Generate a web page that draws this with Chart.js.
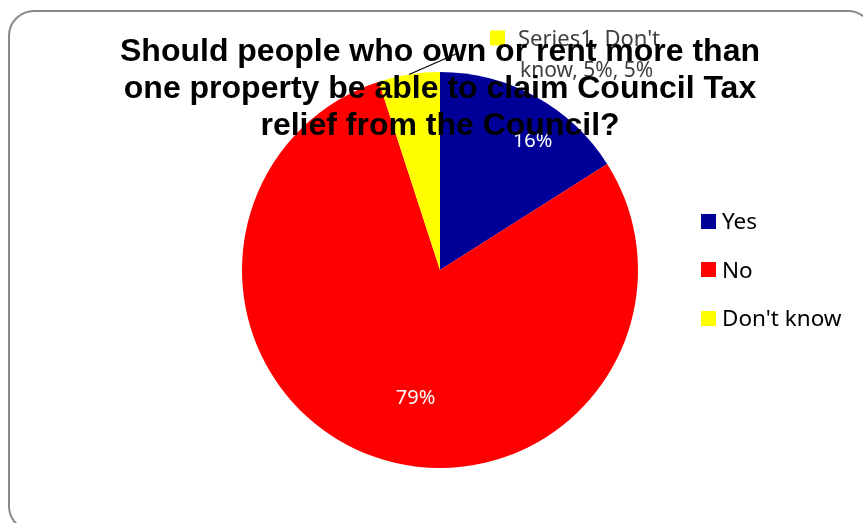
<!DOCTYPE html>
<html lang="en">
<head>
    <meta charset="UTF-8">
    <title>Council Tax relief survey</title>
    <script src="https://cdn.jsdelivr.net/npm/chart.js@4.4.0/dist/chart.umd.min.js"></script>
    <style>
        body {
            margin: 0;
            background: #ffffff;
            overflow: hidden;
        }

        .frame {
            position: relative;
            width: 863px;
            height: 523px;
            overflow: hidden;
        }

        .border-box {
            position: absolute;
            left: 8px;
            top: 10px;
            width: 866px;
            height: 522px;
            border: 2px solid #8a8a8a;
            border-radius: 26px;
            box-sizing: border-box;
        }

        .chart-container {
            position: absolute;
            left: 0;
            top: 0;
            width: 863px;
            height: 523px;
        }

        .title {
            position: absolute;
            left: 40px;
            top: 32px;
            width: 800px;
            text-align: center;
            font-family: "Liberation Sans", Arial, sans-serif;
            font-weight: bold;
            font-size: 32px;
            line-height: 37px;
            color: #000;
            pointer-events: none;
        }

        .legend {
            position: absolute;
            left: 701px;
            top: 197px;
            font-family: "Noto Sans", sans-serif;
            font-size: 22.5px;
            color: #000;
        }

        .legend-item {
            display: flex;
            align-items: center;
            height: 48.5px;
            line-height: 22px;
        }

        .legend-item span.box {
            display: inline-block;
            width: 15px;
            height: 15px;
            margin-right: 6px;
        }
    </style>
</head>
<body>
<div class="frame">
    <div class="border-box"></div>
    <div class="chart-container">
        <canvas id="pie-chart"></canvas>
    </div>
    <div class="legend" id="legend"></div>
    <div class="title">Should people who own or rent more than<br>one property be able to claim Council Tax<br>relief from the Council?</div>
</div>

<script>
    // Chart data
    const categories = ['Yes', 'No', "Don't know"];
    const percentValues = [16, 79, 5];
    const sliceColors = ['#000099', '#ff0000', '#ffff00'];
    const seriesName = 'Series1';

    // Legend built from the same arrays
    const legendEl = document.getElementById('legend');
    categories.forEach((cat, i) => {
        const item = document.createElement('div');
        item.className = 'legend-item';
        item.innerHTML = '<span class="box" style="background:' + sliceColors[i] + '"></span>' + cat;
        legendEl.appendChild(item);
    });

    // Draws the percentage labels and the callout for the small slice
    const sliceLabels = {
        id: 'sliceLabels',
        afterDatasetsDraw(chart) {
            const ctx = chart.ctx;
            const arcs = chart.getDatasetMeta(0).data;
            ctx.save();

            // inside labels (Yes, No)
            const nudge = [{ r: 0.8, a: 7 }, { r: 0.66, a: -9 }];
            ctx.font = '20px "Noto Sans", sans-serif';
            ctx.fillStyle = '#ffffff';
            ctx.textAlign = 'center';
            ctx.textBaseline = 'middle';
            for (let i = 0; i < 2; i++) {
                const arc = arcs[i];
                const mid = (arc.startAngle + arc.endAngle) / 2 + nudge[i].a * Math.PI / 180;
                const r = arc.outerRadius * nudge[i].r;
                ctx.fillText(percentValues[i] + '%', arc.x + Math.cos(mid) * r, arc.y + Math.sin(mid) * r);
            }

            // callout for Don't know
            const small = arcs[2];
            const mid = (small.startAngle + small.endAngle) / 2;
            const sx = small.x + Math.cos(mid) * small.outerRadius;
            const sy = small.y + Math.sin(mid) * small.outerRadius;
            ctx.strokeStyle = '#000000';
            ctx.lineWidth = 1.2;
            ctx.beginPath();
            ctx.moveTo(sx, sy);
            ctx.lineTo(sx + 48, sy - 21);
            ctx.stroke();

            const lx = sx + 81;
            const ly = sy - 44;
            ctx.fillStyle = sliceColors[2];
            ctx.fillRect(lx, ly, 15, 15);
            ctx.fillStyle = '#404040';
            ctx.font = '22px "Noto Sans", sans-serif';
            ctx.textAlign = 'left';
            ctx.textBaseline = 'alphabetic';
            ctx.fillText(seriesName + ", Don't", lx + 28, ly + 16);
            ctx.font = '21px "Noto Sans", sans-serif';
            ctx.fillText('know, ' + percentValues[2] + '%, ' + percentValues[2] + '%', lx + 30, ly + 47);
            ctx.restore();
        }
    };

    new Chart(document.getElementById('pie-chart'), {
        type: 'pie',
        data: {
            labels: categories,
            datasets: [{
                label: seriesName,
                data: percentValues,
                backgroundColor: sliceColors,
                borderWidth: 0,
                offset: 0,
                hoverOffset: 0
            }]
        },
        options: {
            responsive: true,
            maintainAspectRatio: false,
            animation: false,
            layout: {
                padding: { top: 72, bottom: 55, left: 242, right: 225 }
            },
            plugins: {
                legend: { display: false },
                title: { display: false },
                tooltip: { enabled: false }
            }
        },
        plugins: [sliceLabels]
    });
</script>
</body>
</html>
